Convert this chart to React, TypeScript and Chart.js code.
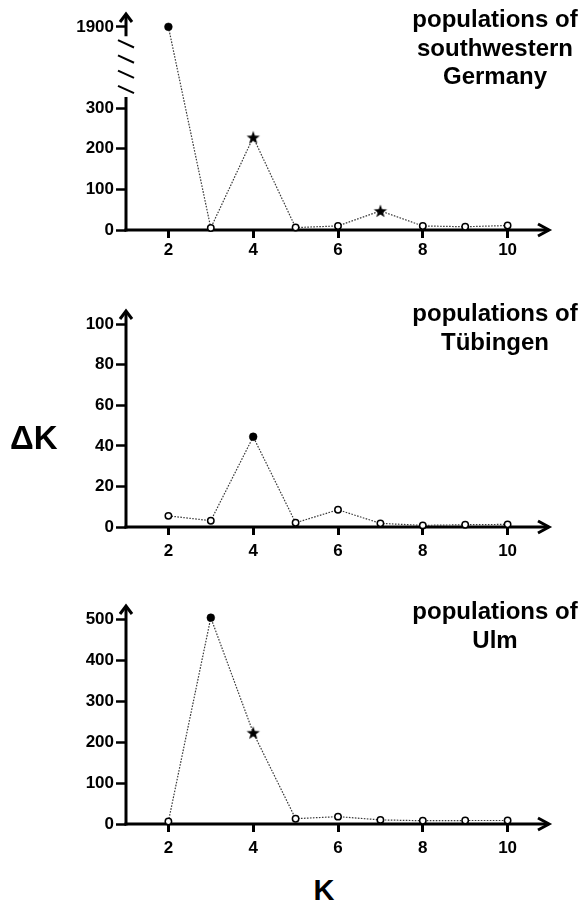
import React, { useEffect, useRef } from 'react';
import { Chart, registerables, LinearScale } from 'chart.js';

Chart.register(...registerables);

// ---- data ----
const kValues = [2, 3, 4, 5, 6, 7, 8, 9, 10];
const xTicks = [2, 4, 6, 8, 10];

const swGermanyDeltaK = [1900, 5, 228, 6, 10, 47, 10, 8, 11];
const swGermanyMarkers = ['filled', 'open', 'star', 'open', 'open', 'star', 'open', 'open', 'open'];
const swGermanyYTicks = [0, 100, 200, 300, 1900];

const tuebingenDeltaK = [5.5, 3.1, 44.5, 2.1, 8.5, 1.8, 0.8, 1.1, 1.3];
const tuebingenMarkers = ['open', 'open', 'filled', 'open', 'open', 'open', 'open', 'open', 'open'];
const tuebingenYTicks = [0, 20, 40, 60, 80, 100];

const ulmDeltaK = [6, 504, 223, 13, 18, 10, 8, 8.5, 8.5];
const ulmMarkers = ['open', 'filled', 'star', 'open', 'open', 'open', 'open', 'open', 'open'];
const ulmYTicks = [0, 100, 200, 300, 400, 500];

const swTitle = ['populations of', 'southwestern', 'Germany'];
const tuTitle = ['populations of', 'Tübingen'];
const ulmTitle = ['populations of', 'Ulm'];

// broken axis: values above BREAK_FROM are shifted down by BREAK_SHIFT
const BREAK_FROM = 1000;
const BREAK_SHIFT = 1400;
const BREAK_LOW = 327; // lower axis segment ends here
const BREAK_HIGH = 1877; // upper axis segment starts here

class BrokenScale extends LinearScale {
  static id = 'broken';
  static defaults = LinearScale.defaults;
  getPixelForValue(value: number) {
    const v = value > BREAK_FROM ? value - BREAK_SHIFT : value;
    return super.getPixelForValue(v);
  }
  getValueForPixel(pixel: number) {
    const v = super.getValueForPixel(pixel);
    return v > BREAK_FROM - BREAK_SHIFT + 200 ? v + BREAK_SHIFT : v;
  }
}
Chart.register(BrokenScale);

const FONT = '"Liberation Sans", Arial, Helvetica, sans-serif';

function makeStar(): HTMLCanvasElement {
  const c = document.createElement('canvas');
  c.width = 16;
  c.height = 16;
  const ctx = c.getContext('2d')!;
  const R = 7, r = 2.8, cx = 8, cy = 8.6;
  ctx.beginPath();
  for (let i = 0; i < 10; i++) {
    const rad = i % 2 === 0 ? R : r;
    const a = -Math.PI / 2 + (i * Math.PI) / 5;
    const x = cx + rad * Math.cos(a);
    const y = cy + rad * Math.sin(a);
    if (i === 0) ctx.moveTo(x, y); else ctx.lineTo(x, y);
  }
  ctx.closePath();
  ctx.fillStyle = '#000';
  ctx.fill();
  return c;
}

type PanelProps = {
  values: number[];
  markers: string[];
  yTicks: number[];
  yMax: number;
  broken?: boolean;
  top: number;
  height: number;
  areaTop: number;
  axisY: number;
  labelPad: number;
};

function Panel(p: PanelProps) {
  const ref = useRef<HTMLCanvasElement | null>(null);
  useEffect(() => {
    const canvas = ref.current!;
    const star = makeStar();
    const axisPlugin = {
      id: 'axisArrows',
      beforeDatasetsDraw(chart: any) {
        const ctx = chart.ctx;
        const { left, right, top } = chart.chartArea;
        const ys = chart.scales.y;
        const y0 = ys.getPixelForValue(0);
        ctx.save();
        ctx.strokeStyle = '#000';
        ctx.lineWidth = 3;
        ctx.lineCap = 'butt';
        ctx.lineJoin = 'miter';
        // x axis
        ctx.beginPath();
        ctx.moveTo(left - 1.5, y0);
        ctx.lineTo(right - 1.5, y0);
        ctx.stroke();
        ctx.beginPath();
        ctx.moveTo(right - 12, y0 - 6);
        ctx.lineTo(right - 1, y0);
        ctx.lineTo(right - 12, y0 + 6);
        ctx.stroke();
        // y axis
        ctx.beginPath();
        if (p.broken) {
          const pLow = ys.getPixelForValue(BREAK_LOW);
          const pHigh = ys.getPixelForValue(BREAK_HIGH);
          ctx.moveTo(left, y0 + 1.5);
          ctx.lineTo(left, pLow);
          ctx.moveTo(left, pHigh);
          ctx.lineTo(left, top + 1.5);
          ctx.stroke();
          ctx.lineWidth = 2;
          for (let i = 0; i < 4; i++) {
            const yc = pHigh + ((pLow - pHigh) * (i + 0.5)) / 4;
            ctx.beginPath();
            ctx.moveTo(left - 8, yc - 3.7);
            ctx.lineTo(left + 8, yc + 3.7);
            ctx.stroke();
          }
          ctx.lineWidth = 3;
        } else {
          ctx.moveTo(left, y0 + 1.5);
          ctx.lineTo(left, top + 1.5);
          ctx.stroke();
        }
        ctx.beginPath();
        ctx.moveTo(left - 6, top + 9);
        ctx.lineTo(left, top + 1);
        ctx.lineTo(left + 6, top + 9);
        ctx.stroke();
        ctx.restore();
      },
    };

    const chart = new Chart(canvas, {
      type: 'line',
      data: {
        datasets: [
          {
            data: kValues.map((k, i) => ({ x: k, y: p.values[i] })),
            borderColor: '#3a3a3a',
            borderWidth: 1.2,
            borderDash: [1.6, 1.4],
            fill: false,
            tension: 0,
            clip: false,
            pointStyle: p.markers.map((m) => (m === 'star' ? star : 'circle')) as any,
            pointRadius: p.markers.map((m) => (m === 'filled' ? 3.9 : 3.2)),
            pointBackgroundColor: p.markers.map((m) => (m === 'open' ? '#fff' : '#000')),
            pointBorderColor: '#000',
            pointBorderWidth: p.markers.map((m) => (m === 'open' ? 1.5 : 0.5)),
          },
        ],
      },
      options: {
        animation: false,
        responsive: false,
        events: [],
        layout: { padding: { top: p.areaTop, left: 0, right: 31, bottom: 0 } },
        plugins: { legend: { display: false }, tooltip: { enabled: false }, title: { display: false } },
        scales: {
          x: {
            type: 'linear',
            min: 1,
            max: 11,
            afterBuildTicks: (s: any) => {
              s.ticks = xTicks.map((v) => ({ value: v }));
            },
            afterFit: (s: any) => {
              s.height = p.height - p.axisY;
              s.paddingLeft = 0;
              s.paddingRight = 0;
            },
            border: { display: false },
            grid: {
              display: true,
              drawOnChartArea: false,
              drawTicks: true,
              tickLength: 8,
              tickWidth: 3,
              tickColor: '#000',
            },
            ticks: {
              maxRotation: 0,
              autoSkip: false,
              padding: p.labelPad,
              color: '#000',
              font: { family: FONT, size: 17, weight: 'bold' },
              callback: (v: any) => String(v),
            },
          },
          y: {
            type: (p.broken ? 'broken' : 'linear') as any,
            min: 0,
            max: p.yMax,
            afterBuildTicks: (s: any) => {
              s.ticks = p.yTicks.map((v) => ({ value: v }));
            },
            afterFit: (s: any) => {
              s.width = 126;
              s.paddingTop = 0;
              s.paddingBottom = 0;
            },
            border: { display: false },
            grid: {
              display: true,
              drawOnChartArea: false,
              drawTicks: true,
              tickLength: 10,
              tickWidth: 2.5,
              tickColor: '#000',
            },
            ticks: {
              autoSkip: false,
              padding: 2,
              color: '#000',
              font: { family: FONT, size: 17, weight: 'bold' },
              callback: (v: any) => String(v),
            },
          },
        },
      } as any,
      plugins: [axisPlugin],
    });
    return () => chart.destroy();
  }, []);
  return (
    <canvas
      ref={ref}
      width={581}
      height={p.height}
      style={{ position: 'absolute', left: 0, top: p.top, width: 581, height: p.height, display: 'block' }}
    />
  );
}

function Title({ lines, top }: { lines: string[]; top: number }) {
  return (
    <div
      style={{
        position: 'absolute',
        left: 395,
        top,
        width: 200,
        textAlign: 'center',
        fontFamily: FONT,
        fontWeight: 'bold',
        fontSize: 24,
        lineHeight: '28.5px',
        color: '#000',
        whiteSpace: 'nowrap',
      }}
    >
      {lines.map((l, i) => (
        <div key={i}>{l}</div>
      ))}
    </div>
  );
}

export default function App() {
  return (
    <div style={{ position: 'absolute', left: 0, top: 0, width: 581, height: 904, background: '#fff', overflow: 'hidden' }}>
      <Panel values={swGermanyDeltaK} markers={swGermanyMarkers} yTicks={swGermanyYTicks} yMax={534} broken
        top={0} height={270} areaTop={13} axisY={230} labelPad={2} />
      <Panel values={tuebingenDeltaK} markers={tuebingenMarkers} yTicks={tuebingenYTicks} yMax={107}
        top={280} height={290} areaTop={30} axisY={247} labelPad={6} />
      <Panel values={ulmDeltaK} markers={ulmMarkers} yTicks={ulmYTicks} yMax={535}
        top={570} height={300} areaTop={35} axisY={254} labelPad={6} />
      <Title lines={swTitle} top={5.4} />
      <Title lines={tuTitle} top={299} />
      <Title lines={ulmTitle} top={597.4} />
      <div style={{ position: 'absolute', left: 10, top: 422, fontFamily: FONT, fontWeight: 'bold', fontSize: 33, lineHeight: '32px', color: '#000' }}>ΔK</div>
      <div style={{ position: 'absolute', left: 274, width: 100, textAlign: 'center', top: 876, fontFamily: FONT, fontWeight: 'bold', fontSize: 29, lineHeight: '29px', color: '#000' }}>K</div>
    </div>
  );
}
